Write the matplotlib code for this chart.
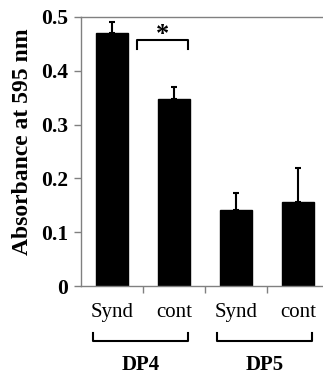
import numpy as np
import matplotlib

matplotlib.use("Agg")
import matplotlib.pyplot as plt

# bar data
labels = ["Synd", "cont", "Synd", "cont"]
means = [0.470, 0.348, 0.141, 0.157]
errs = [0.020, 0.021, 0.032, 0.063]
groups = ["DP4", "DP5"]
group_members = [(0, 1), (2, 3)]

plt.rcParams["font.family"] = ["Liberation Serif", "DejaVu Serif"]
GRAY = "#808080"

fig = plt.figure(figsize=(3.23, 3.74), dpi=100)
ax = fig.add_axes([81 / 323, 88 / 374, 242 / 323, 269 / 374])

x = np.arange(len(labels))
ax.bar(x, means, width=0.52, color="black", edgecolor="black", zorder=2)
ax.errorbar(x, means, yerr=[np.zeros(len(errs)), errs], fmt="none",
            ecolor="black", elinewidth=1.5, capsize=2.5, capthick=1.5, zorder=3)

ax.set_xlim(-0.5, 3.4)
ax.set_ylim(0, 0.5)
ax.set_yticks([0, 0.1, 0.2, 0.3, 0.4, 0.5])
ax.set_yticklabels(["0", "0.1", "0.2", "0.3", "0.4", "0.5"], fontweight="bold", fontsize=15.5)
ax.tick_params(axis="y", direction="out", length=5, width=1, color=GRAY, pad=4)

ax.set_xticks(x)
ax.set_xticklabels(labels, fontsize=15)
ax.tick_params(axis="x", which="major", length=0, pad=12)
ax.set_xticks([0.5, 1.5, 2.5], minor=True)
ax.tick_params(axis="x", which="minor", direction="out", length=5, width=1, color=GRAY)

for s in ["left", "bottom", "top"]:
    ax.spines[s].set_color(GRAY)
    ax.spines[s].set_linewidth(1)
ax.spines["right"].set_visible(False)

ax.set_ylabel("Absorbance at 595 nm", fontsize=17, fontweight="bold")
ax.yaxis.set_label_coords(-(81 - 33) / 242, 0.535)

# group brackets under the axis
for name, (a, b) in zip(groups, group_members):
    x0, x1 = a - 0.31, b + 0.23
    ax.plot([x0, x0, x1, x1], [-0.087, -0.102, -0.102, -0.087], color="black",
            lw=1.5, clip_on=False)
    ax.text((x0 + x1) / 2, -0.147, name, ha="center", va="center",
            fontsize=15, fontweight="bold", clip_on=False)

# significance bracket
ax.plot([0.40, 0.40, 1.23, 1.23], [0.440, 0.457, 0.457, 0.440], color="black", lw=1.5)
ax.text(0.82, 0.468, "*", ha="center", va="center", fontsize=19, fontweight="bold")

fig.savefig("out.png", dpi=100)
